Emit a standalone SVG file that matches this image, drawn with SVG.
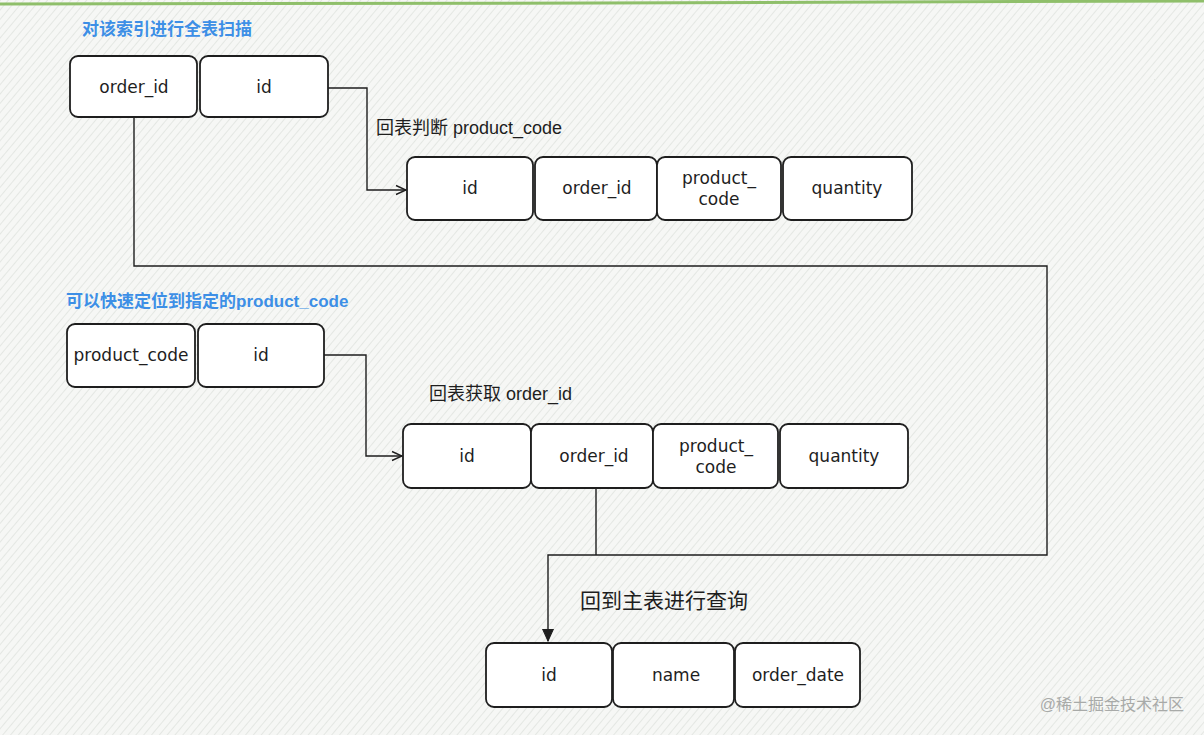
<svg xmlns="http://www.w3.org/2000/svg" width="1204" height="735" viewBox="0 0 1204 735">
<defs>
<pattern id="hatch" width="6" height="6" patternUnits="userSpaceOnUse" patternTransform="rotate(40)">
<rect width="6" height="6" fill="#f6f7f5"/>
<line x1="0" y1="0" x2="0" y2="6" stroke="#d6dad5" stroke-width="1.1"/>
</pattern>
<marker id="arr" viewBox="0 0 12 12" refX="11" refY="6" markerWidth="12" markerHeight="12" markerUnits="userSpaceOnUse" orient="auto">
<path d="M1,1.5 L11,6 L1,10.5" fill="none" stroke="#1e1e1e" stroke-width="1.4"/>
</marker>
<marker id="arrF" viewBox="0 0 12 12" refX="11" refY="6" markerWidth="13" markerHeight="13" markerUnits="userSpaceOnUse" orient="auto">
<path d="M0,1 L11,6 L0,11 Z" fill="#1e1e1e" stroke="#1e1e1e" stroke-width="1"/>
</marker>
</defs>
<style>
.bx{fill:#ffffff;stroke:#1e1e1e;stroke-width:1.8}
.t{font-family:"DejaVu Sans","Liberation Sans",sans-serif;font-size:17px;fill:#1e1e1e;text-anchor:middle;dominant-baseline:central}
.lbl{font-family:"Liberation Sans","Noto Sans CJK SC",sans-serif;font-size:18px;fill:#1e1e1e}
.ttl{font-family:"Liberation Sans","Noto Sans CJK SC",sans-serif;font-size:17px;font-weight:bold;fill:#3d8fe6}
.ln{fill:none;stroke:#1e1e1e;stroke-width:1.4}
</style>
<rect width="1204" height="735" fill="url(#hatch)"/>
<path d="M0,4 L600,3 L1204,1" stroke="#8fbf6a" stroke-width="3" fill="none"/>

<text class="ttl" x="82" y="35">对该索引进行全表扫描</text>
<text class="ttl" x="66" y="307">可以快速定位到指定的product_code</text>

<g id="connectors">
<path class="ln" d="M328,88 L367,88 L367,190 L406,190" marker-end="url(#arr)"/>
<path class="ln" d="M324,355 L366,355 L366,456 L402,456" marker-end="url(#arr)"/>
<path class="ln" d="M134,117 L134,266 L1047,266 L1047,555 L548,555 L548,641" marker-end="url(#arrF)"/>
<path class="ln" d="M596,488 L596,555"/>
</g>

<text class="lbl" x="376" y="134">回表判断 product_code</text>
<text class="lbl" x="429" y="400">回表获取 order_id</text>
<text class="lbl" x="580" y="608" style="font-size:21px">回到主表进行查询</text>

<g id="idx1-order_id"><rect class="bx" x="70" y="56" width="127" height="61" rx="8"/><text class="t" x="134" y="87">order_id</text></g>
<g id="idx1-id"><rect class="bx" x="200" y="56" width="128" height="61" rx="8"/><text class="t" x="264" y="87">id</text></g>

<g id="t1-id"><rect class="bx" x="407" y="157" width="126" height="63" rx="8"/><text class="t" x="470" y="188">id</text></g>
<g id="t1-order_id"><rect class="bx" x="535" y="157" width="122" height="63" rx="8"/><text class="t" x="597" y="188">order_id</text></g>
<g id="t1-product_code"><rect class="bx" x="657" y="157" width="124" height="63" rx="8"/><text class="t" x="719" y="178">product_</text><text class="t" x="719" y="199">code</text></g>
<g id="t1-quantity"><rect class="bx" x="783" y="157" width="129" height="63" rx="8"/><text class="t" x="847" y="188">quantity</text></g>

<g id="idx2-product_code"><rect class="bx" x="67" y="324" width="128" height="63" rx="8"/><text class="t" x="131" y="355">product_code</text></g>
<g id="idx2-id"><rect class="bx" x="198" y="324" width="126" height="63" rx="8"/><text class="t" x="261" y="355">id</text></g>

<g id="t2-id"><rect class="bx" x="403" y="424" width="128" height="64" rx="8"/><text class="t" x="467" y="456">id</text></g>
<g id="t2-order_id"><rect class="bx" x="531" y="424" width="122" height="64" rx="8"/><text class="t" x="594" y="456">order_id</text></g>
<g id="t2-product_code"><rect class="bx" x="653" y="424" width="125" height="64" rx="8"/><text class="t" x="716" y="446">product_</text><text class="t" x="716" y="467">code</text></g>
<g id="t2-quantity"><rect class="bx" x="780" y="424" width="128" height="64" rx="8"/><text class="t" x="844" y="456">quantity</text></g>

<g id="m-id"><rect class="bx" x="486" y="643" width="126" height="64" rx="8"/><text class="t" x="549" y="675">id</text></g>
<g id="m-name"><rect class="bx" x="613" y="643" width="121" height="64" rx="8"/><text class="t" x="676" y="675">name</text></g>
<g id="m-order_date"><rect class="bx" x="735" y="643" width="125" height="64" rx="8"/><text class="t" x="798" y="675">order_date</text></g>

<text x="1184" y="710" text-anchor="end" style="font-family:'Liberation Sans','Noto Sans CJK SC',sans-serif;font-size:16px;fill:#a8aaa8">@稀土掘金技术社区</text>
</svg>
